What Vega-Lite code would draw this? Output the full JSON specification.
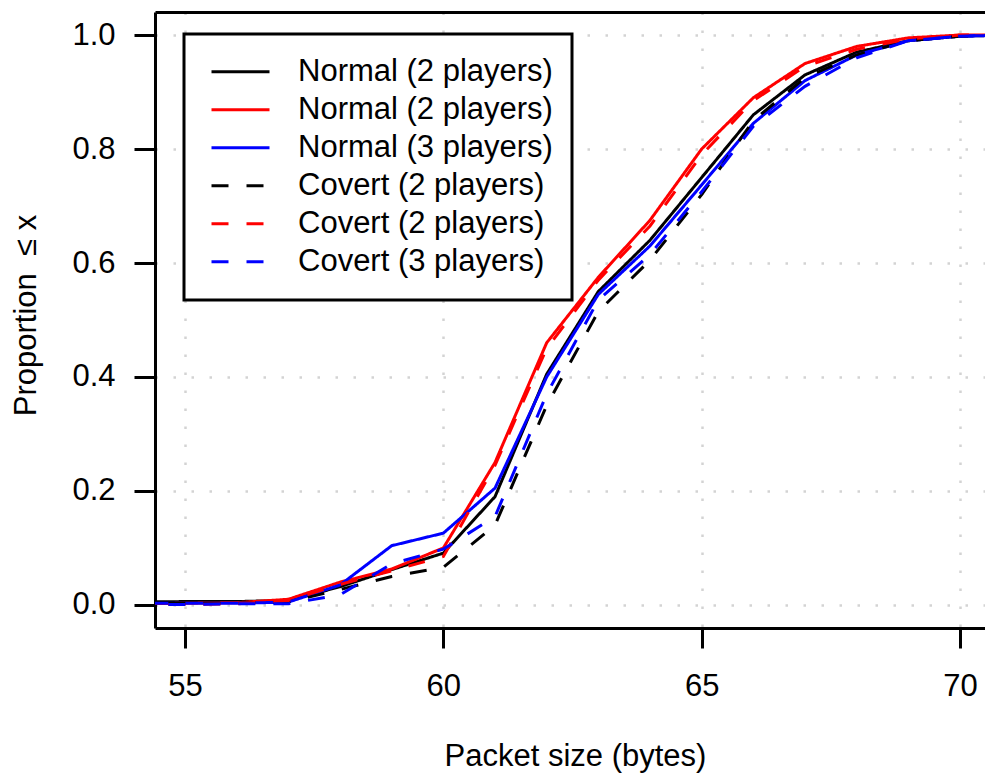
{
  "$schema": "https://vega.github.io/schema/vega-lite/v6.json",
  "autosize": "none",
  "width": 830,
  "height": 616,
  "padding": {"left": 155, "top": 12, "right": 0, "bottom": 148},
  "background": "white",
  "config": {
    "view": {"stroke": null},
    "font": "Liberation Sans",
    "axis": {
      "domainColor": "black", "domainWidth": 3,
      "tickColor": "black", "tickWidth": 3,
      "labelColor": "black", "labelFont": "Liberation Sans", "labelFontSize": 31,
      "titleColor": "black", "titleFont": "Liberation Sans", "titleFontSize": 31, "titleFontWeight": "normal",
      "gridColor": "#d3d3d3", "gridWidth": 2.5, "gridDash": [2.5, 15.5]
    }
  },
  "data": {"values": [
    {"s":"A","x":54,"y":0.005},{"s":"A","x":55,"y":0.006},{"s":"A","x":56,"y":0.006},{"s":"A","x":57,"y":0.008},{"s":"A","x":58,"y":0.032},{"s":"A","x":59,"y":0.062},{"s":"A","x":60,"y":0.091},{"s":"A","x":61,"y":0.19},{"s":"A","x":62,"y":0.405},{"s":"A","x":63,"y":0.55},{"s":"A","x":64,"y":0.64},{"s":"A","x":65,"y":0.75},{"s":"A","x":66,"y":0.86},{"s":"A","x":67,"y":0.93},{"s":"A","x":68,"y":0.97},{"s":"A","x":69,"y":0.99},{"s":"A","x":70,"y":0.998},{"s":"A","x":71,"y":1.0},
    {"s":"B","x":54,"y":0.002},{"s":"B","x":55,"y":0.003},{"s":"B","x":56,"y":0.004},{"s":"B","x":57,"y":0.01},{"s":"B","x":58,"y":0.04},{"s":"B","x":59,"y":0.063},{"s":"B","x":60,"y":0.1},{"s":"B","x":61,"y":0.25},{"s":"B","x":62,"y":0.46},{"s":"B","x":63,"y":0.575},{"s":"B","x":64,"y":0.675},{"s":"B","x":65,"y":0.8},{"s":"B","x":66,"y":0.89},{"s":"B","x":67,"y":0.95},{"s":"B","x":68,"y":0.98},{"s":"B","x":69,"y":0.995},{"s":"B","x":70,"y":1.0},{"s":"B","x":71,"y":1.0},
    {"s":"C","x":54,"y":0.003},{"s":"C","x":55,"y":0.003},{"s":"C","x":56,"y":0.003},{"s":"C","x":57,"y":0.005},{"s":"C","x":58,"y":0.035},{"s":"C","x":59,"y":0.104},{"s":"C","x":60,"y":0.126},{"s":"C","x":61,"y":0.205},{"s":"C","x":62,"y":0.4},{"s":"C","x":63,"y":0.545},{"s":"C","x":64,"y":0.63},{"s":"C","x":65,"y":0.737},{"s":"C","x":66,"y":0.845},{"s":"C","x":67,"y":0.92},{"s":"C","x":68,"y":0.965},{"s":"C","x":69,"y":0.99},{"s":"C","x":70,"y":0.998},{"s":"C","x":71,"y":1.0},
    {"s":"D","x":54,"y":0.003},{"s":"D","x":55,"y":0.003},{"s":"D","x":56,"y":0.003},{"s":"D","x":57,"y":0.005},{"s":"D","x":58,"y":0.027},{"s":"D","x":59,"y":0.05},{"s":"D","x":60,"y":0.066},{"s":"D","x":61,"y":0.14},{"s":"D","x":62,"y":0.35},{"s":"D","x":63,"y":0.515},{"s":"D","x":64,"y":0.605},{"s":"D","x":65,"y":0.72},{"s":"D","x":66,"y":0.85},{"s":"D","x":67,"y":0.925},{"s":"D","x":68,"y":0.965},{"s":"D","x":69,"y":0.99},{"s":"D","x":70,"y":0.998},{"s":"D","x":71,"y":1.0},
    {"s":"E","x":54,"y":0.0},{"s":"E","x":55,"y":0.001},{"s":"E","x":56,"y":0.002},{"s":"E","x":57,"y":0.008},{"s":"E","x":58,"y":0.036},{"s":"E","x":59,"y":0.06},{"s":"E","x":60,"y":0.085},{"s":"E","x":61,"y":0.245},{"s":"E","x":62,"y":0.45},{"s":"E","x":63,"y":0.57},{"s":"E","x":64,"y":0.665},{"s":"E","x":65,"y":0.79},{"s":"E","x":66,"y":0.885},{"s":"E","x":67,"y":0.945},{"s":"E","x":68,"y":0.975},{"s":"E","x":69,"y":0.993},{"s":"E","x":70,"y":1.0},{"s":"E","x":71,"y":1.0},
    {"s":"F","x":54,"y":0.001},{"s":"F","x":55,"y":0.001},{"s":"F","x":56,"y":0.002},{"s":"F","x":57,"y":0.002},{"s":"F","x":58,"y":0.018},{"s":"F","x":59,"y":0.072},{"s":"F","x":60,"y":0.098},{"s":"F","x":61,"y":0.155},{"s":"F","x":62,"y":0.37},{"s":"F","x":63,"y":0.535},{"s":"F","x":64,"y":0.615},{"s":"F","x":65,"y":0.725},{"s":"F","x":66,"y":0.84},{"s":"F","x":67,"y":0.91},{"s":"F","x":68,"y":0.96},{"s":"F","x":69,"y":0.99},{"s":"F","x":70,"y":0.998},{"s":"F","x":71,"y":1.0}
  ]},
  "layer": [
    {
      "mark": {"type": "line", "clip": true, "strokeWidth": 3, "strokeCap": "butt"},
      "encoding": {
        "x": {
          "field": "x", "type": "quantitative",
          "scale": {"domain": [54.419, 70.484], "nice": false, "zero": false},
          "axis": {
            "orient": "bottom", "values": [55, 60, 65, 70], "grid": true,
            "tickSize": 20, "labelPadding": 47, "labelBaseline": "alphabetic",
            "labelFlush": false, "labelOverlap": false,
            "title": "Packet size (bytes)", "titleX": 420, "titleY": 137,
            "titleBaseline": "alphabetic", "titleAlign": "center"
          }
        },
        "y": {
          "field": "y", "type": "quantitative",
          "scale": {"domain": [-0.0404, 1.0404], "nice": false, "zero": false},
          "axis": {
            "values": [0, 0.2, 0.4, 0.6, 0.8, 1.0], "format": ".1f", "grid": true,
            "tickSize": 21, "labelPadding": 19, "labelBaseline": "middle",
            "labelFlush": false, "labelOverlap": false,
            "title": "Proportion \u00a0≤ x", "titleX": -120, "titleY": 303,
            "titleAngle": -90, "titleBaseline": "alphabetic", "titleAlign": "center"
          }
        },
        "color": {
          "field": "s", "type": "nominal",
          "scale": {"domain": ["A","B","C","D","E","F"], "range": ["#000000","#ff0000","#0000ff","#000000","#ff0000","#0000ff"]},
          "legend": {
            "orient": "none", "legendX": 29, "legendY": 22,
            "title": null,
            "labelExpr": "datum.label == 'A' ? 'Normal (2 players)' : datum.label == 'B' ? 'Normal (2 players)' : datum.label == 'C' ? 'Normal (3 players)' : datum.label == 'D' ? 'Covert (2 players)' : datum.label == 'E' ? 'Covert (2 players)' : 'Covert (3 players)'",
            "labelFont": "Liberation Sans", "labelFontSize": 31, "labelColor": "black",
            "labelOffset": 27, "labelLimit": 0, "symbolOffset": 7,
            "symbolType": "stroke", "symbolSize": 3364, "symbolStrokeWidth": 3,
            "clipHeight": 37.5, "rowPadding": 0,
            "padding": 19, "strokeColor": "black", "fillColor": "white",
            "encode": {"legend": {"update": {"strokeWidth": {"value": 3}}}}
          }
        },
        "strokeDash": {
          "field": "s", "type": "nominal",
          "scale": {"domain": ["A","B","C","D","E","F"], "range": [[1,0],[1,0],[1,0],[17,18],[17,18],[17,18]]},
          "legend": {
            "orient": "none", "legendX": 29, "legendY": 22,
            "title": null,
            "labelExpr": "datum.label == 'A' ? 'Normal (2 players)' : datum.label == 'B' ? 'Normal (2 players)' : datum.label == 'C' ? 'Normal (3 players)' : datum.label == 'D' ? 'Covert (2 players)' : datum.label == 'E' ? 'Covert (2 players)' : 'Covert (3 players)'",
            "labelFont": "Liberation Sans", "labelFontSize": 31, "labelColor": "black",
            "labelOffset": 27, "labelLimit": 0, "symbolOffset": 7,
            "symbolType": "stroke", "symbolSize": 3364, "symbolStrokeWidth": 3,
            "clipHeight": 37.5, "rowPadding": 0,
            "padding": 19, "strokeColor": "black", "fillColor": "white",
            "encode": {"legend": {"update": {"strokeWidth": {"value": 3}}}}
          }
        }
      }
    },
    {
      "mark": {"type": "point", "opacity": 0},
      "encoding": {
        "x": {
          "field": "x", "type": "quantitative",
          "scale": {"domain": [54.419, 70.484], "nice": false, "zero": false},
          "axis": {"orient": "top", "ticks": false, "labels": false, "grid": false, "title": null, "domain": true}
        }
      }
    }
  ],
  "resolve": {"axis": {"x": "independent"}}
}
